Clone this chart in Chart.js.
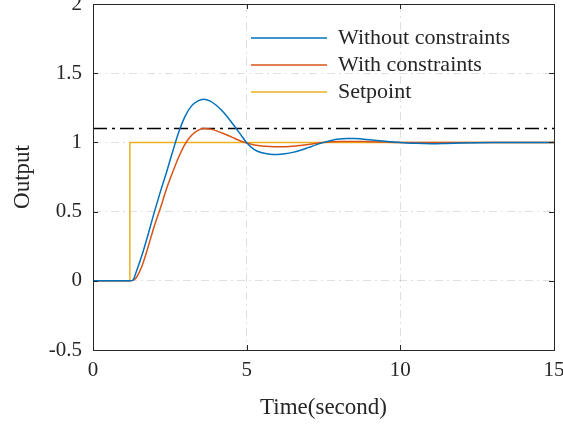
<!DOCTYPE html>
<html lang="en">
<head>
    <meta charset="UTF-8">
    <title>Output vs Time</title>
    <script src="https://cdn.jsdelivr.net/npm/chart.js"></script>
    <style>
        html, body {
            margin: 0;
            padding: 0;
            background: #ffffff;
        }
        .wrap {
            width: 563px;
            height: 427px;
        }
    </style>
</head>
<body>
    <div class="wrap">
        <canvas id="outputChart"></canvas>
    </div>

    <script>
        // time samples shared by the two responses
        const time = [0, 1.2, 1.3, 1.4, 1.6, 1.8, 2.0, 2.2, 2.4, 2.6, 2.8, 3.0, 3.2, 3.4, 3.6, 3.8, 4.0, 4.2, 4.4, 4.6, 4.8,
            5.0, 5.25, 5.5, 5.75, 6.0, 6.25, 6.5, 6.75, 7.0, 7.25, 7.5, 7.75, 8.0, 8.25, 8.5, 8.75, 9.0, 9.5,
            10.0, 10.5, 11.0, 11.5, 12.0, 13.0, 14.0, 15.0];

        const withoutConstraints = [0, 0, 0.005, 0.06, 0.19, 0.34, 0.50, 0.65, 0.79, 0.94, 1.08, 1.19, 1.262, 1.298, 1.312, 1.300, 1.270, 1.228, 1.176, 1.118, 1.058,
            0.998, 0.948, 0.925, 0.915, 0.913, 0.918, 0.928, 0.943, 0.962, 0.982, 1.0, 1.014, 1.024, 1.029, 1.029, 1.025, 1.019, 1.008,
            1.0, 0.993, 0.99, 0.992, 0.995, 0.999, 1.0, 1.0];

        const withConstraints = [0, 0, 0.003, 0.02, 0.11, 0.25, 0.40, 0.53, 0.67, 0.79, 0.90, 0.99, 1.05, 1.085, 1.10, 1.096, 1.085, 1.068, 1.05, 1.03, 1.01,
            0.995, 0.982, 0.974, 0.97, 0.968, 0.969, 0.972, 0.978, 0.985, 0.993, 1.0, 1.004, 1.006, 1.007, 1.007, 1.006, 1.005, 1.002,
            1.0, 1.0, 1.0, 1.0, 1.0, 1.0, 1.0, 1.0];

        const setpointTime = [0, 1.2, 1.2, 15];
        const setpoint = [0, 0, 1, 1];

        const limitTime = [0, 15];
        const limit = [1.1, 1.1];

        const xTicks = [0, 5, 10, 15];
        const yTicks = [-0.5, 0, 0.5, 1, 1.5, 2];

        const axisColor = '#262626';
        const serif = "'Liberation Serif', 'Times New Roman', serif";

        function points(xs, ys) {
            return xs.map((t, i) => ({ x: t, y: ys[i] }));
        }

        // box round the plot with small inward tick marks on all four sides
        const framePlugin = {
            id: 'frame',
            afterDatasetsDraw(chart) {
                const { ctx, chartArea: a, scales: { x, y } } = chart;
                const len = 5;
                ctx.save();
                ctx.strokeStyle = axisColor;
                ctx.lineWidth = 1;
                ctx.setLineDash([]);
                ctx.beginPath();
                xTicks.forEach(v => {
                    const px = Math.round(x.getPixelForValue(v)) + 0.5;
                    ctx.moveTo(px, a.bottom);
                    ctx.lineTo(px, a.bottom - len);
                    ctx.moveTo(px, a.top);
                    ctx.lineTo(px, a.top + len);
                });
                yTicks.forEach(v => {
                    const py = Math.round(y.getPixelForValue(v)) + 0.5;
                    ctx.moveTo(a.left, py);
                    ctx.lineTo(a.left + len, py);
                    ctx.moveTo(a.right, py);
                    ctx.lineTo(a.right - len, py);
                });
                ctx.stroke();
                ctx.strokeRect(Math.round(a.left) + 0.5, Math.round(a.top) + 0.5,
                    Math.round(a.right - a.left), Math.round(a.bottom - a.top));
                ctx.restore();
            }
        };

        // put the legend in the upper right part of the plot
        const legendPlacer = {
            id: 'legendPlacer',
            afterLayout(chart) {
                const lg = chart.legend;
                const a = chart.chartArea;
                lg.left = a.right - 308;
                lg.right = a.right;
                lg.top = a.top + 18;
                lg.bottom = a.bottom;
            }
        };

        const ctx = document.getElementById('outputChart').getContext('2d');
        const outputChart = new Chart(ctx, {
            type: 'line',
            data: {
                datasets: [{
                    label: 'Without constraints',
                    data: points(time, withoutConstraints),
                    borderColor: '#0072BD',
                    borderWidth: 1.5,
                    pointRadius: 0,
                    cubicInterpolationMode: 'monotone',
                    fill: false
                }, {
                    label: 'With constraints',
                    data: points(time, withConstraints),
                    borderColor: '#D95319',
                    borderWidth: 1.5,
                    pointRadius: 0,
                    cubicInterpolationMode: 'monotone',
                    fill: false
                }, {
                    label: 'Setpoint',
                    data: points(setpointTime, setpoint),
                    borderColor: '#EDB120',
                    borderWidth: 1.5,
                    pointRadius: 0,
                    tension: 0,
                    fill: false
                }, {
                    label: 'limit',
                    data: points(limitTime, limit),
                    borderColor: '#000000',
                    borderWidth: 1.5,
                    borderDash: [14, 5, 3, 5],
                    pointRadius: 0,
                    fill: false
                }]
            },
            options: {
                responsive: true,
                maintainAspectRatio: false,
                animation: false,
                layout: {
                    padding: { top: 4, right: 9, left: 0, bottom: 0 }
                },
                plugins: {
                    tooltip: { enabled: false },
                    legend: {
                        position: 'chartArea',
                        align: 'start',
                        labels: {
                            usePointStyle: true,
                            pointStyle: 'line',
                            pointStyleWidth: 76,
                            padding: 5,
                            color: axisColor,
                            font: { family: serif, size: 22 },
                            filter: item => item.text !== 'limit',
                            generateLabels(chart) {
                                return Chart.defaults.plugins.legend.labels.generateLabels(chart).map(item => {
                                    item.pointStyle = 'line';
                                    item.lineWidth = 1.5;
                                    item.lineDash = [];
                                    return item;
                                });
                            }
                        }
                    }
                },
                scales: {
                    x: {
                        type: 'linear',
                        min: 0,
                        max: 15,
                        afterFit(scale) {
                            scale.height = 77;
                            scale.paddingLeft = 0;
                            scale.paddingRight = 0;
                        },
                        afterBuildTicks(scale) {
                            scale.ticks = xTicks.map(v => ({ value: v }));
                        },
                        grid: {
                            color: 'rgba(38, 38, 38, 0.15)',
                            lineWidth: 1,
                            drawTicks: false
                        },
                        border: { display: false, dash: [8, 4, 2, 4] },
                        ticks: {
                            color: axisColor,
                            padding: 8,
                            maxRotation: 0,
                            callback: v => String(v),
                            font: { family: serif, size: 21 }
                        },
                        title: {
                            display: true,
                            text: 'Time(second)',
                            color: axisColor,
                            padding: { top: 0, bottom: 5 },
                            font: { family: serif, size: 23 }
                        }
                    },
                    y: {
                        type: 'linear',
                        min: -0.5,
                        max: 2,
                        afterFit(scale) {
                            scale.width = 93;
                            scale.paddingTop = 0;
                            scale.paddingBottom = 0;
                        },
                        afterBuildTicks(scale) {
                            scale.ticks = yTicks.map(v => ({ value: v }));
                        },
                        grid: {
                            color: 'rgba(38, 38, 38, 0.15)',
                            lineWidth: 1,
                            drawTicks: false
                        },
                        border: { display: false, dash: [8, 4, 2, 4] },
                        ticks: {
                            color: axisColor,
                            padding: 11,
                            callback: v => String(v),
                            font: { family: serif, size: 21 }
                        },
                        title: {
                            display: true,
                            text: 'Output',
                            color: axisColor,
                            padding: { top: 9, bottom: 0 },
                            font: { family: serif, size: 23 }
                        }
                    }
                }
            },
            plugins: [framePlugin, legendPlacer]
        });
    </script>
</body>
</html>
